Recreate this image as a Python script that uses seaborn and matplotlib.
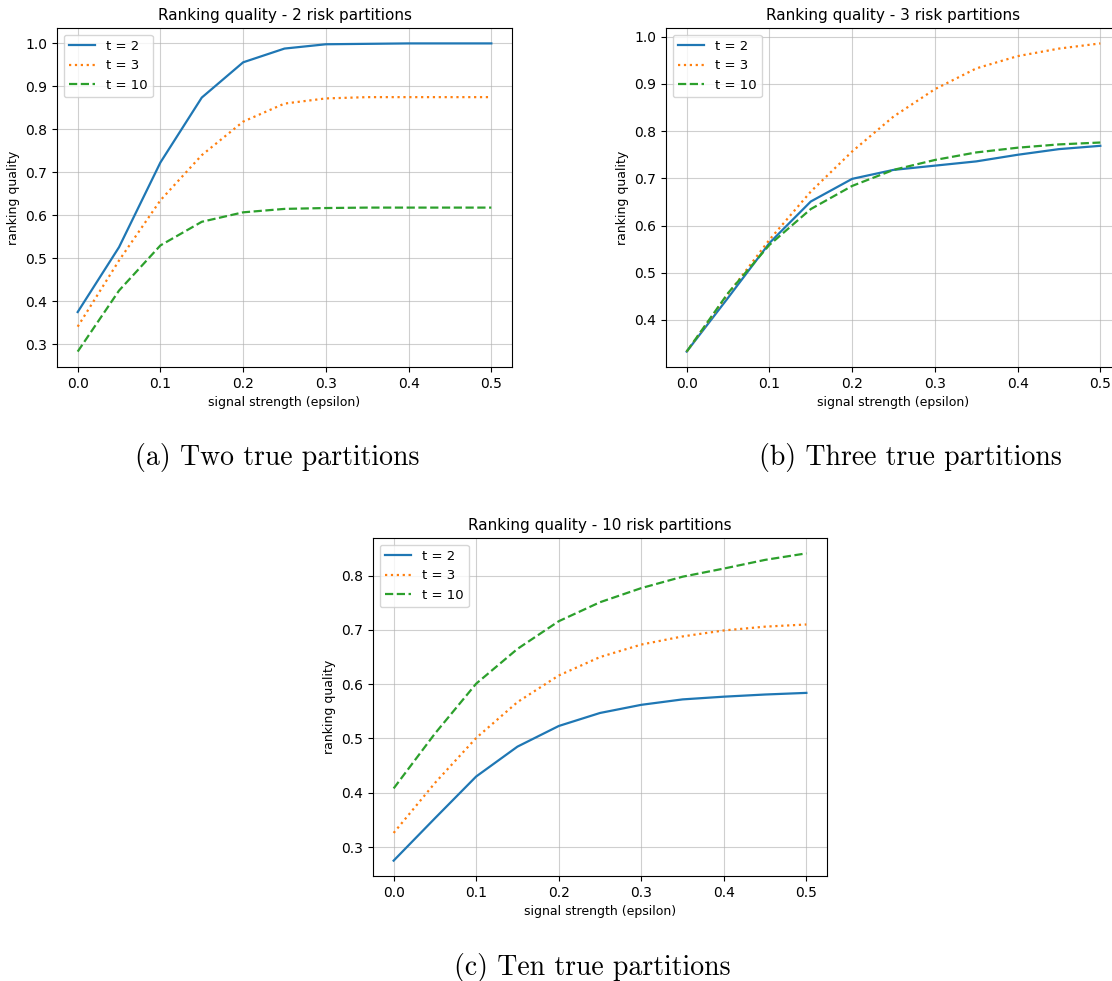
import matplotlib
matplotlib.use("Agg")
import matplotlib.pyplot as plt
import seaborn as sns
import pandas as pd

eps = [0.0, 0.05, 0.1, 0.15, 0.2, 0.25, 0.3, 0.35, 0.4, 0.45, 0.5]
series_labels = ["t = 2", "t = 3", "t = 10"]

# (a) Two true partitions
a_t2 = [0.375, 0.526, 0.723, 0.874, 0.956, 0.988, 0.998, 0.999, 1.0, 1.0, 1.0]
a_t3 = [0.341, 0.495, 0.635, 0.740, 0.818, 0.860, 0.872, 0.875, 0.875, 0.875, 0.875]
a_t10 = [0.283, 0.425, 0.530, 0.585, 0.607, 0.615, 0.617, 0.618, 0.618, 0.618, 0.618]

# (b) Three true partitions
b_t2 = [0.333, 0.447, 0.563, 0.651, 0.699, 0.718, 0.727, 0.736, 0.750, 0.762, 0.769]
b_t3 = [0.333, 0.455, 0.570, 0.672, 0.757, 0.831, 0.889, 0.933, 0.959, 0.975, 0.986]
b_t10 = [0.333, 0.457, 0.559, 0.635, 0.684, 0.718, 0.739, 0.755, 0.765, 0.772, 0.776]

# (c) Ten true partitions
c_t2 = [0.275, 0.353, 0.430, 0.485, 0.523, 0.547, 0.562, 0.572, 0.577, 0.581, 0.584]
c_t3 = [0.326, 0.418, 0.501, 0.567, 0.616, 0.650, 0.673, 0.688, 0.699, 0.706, 0.710]
c_t10 = [0.408, 0.509, 0.601, 0.665, 0.716, 0.751, 0.777, 0.798, 0.813, 0.829, 0.841]

titles = ["Ranking quality - 2 risk partitions",
          "Ranking quality - 3 risk partitions",
          "Ranking quality - 10 risk partitions"]
captions = ["(a) Two true partitions", "(b) Three true partitions", "(c) Ten true partitions"]

colors = ["#1f77b4", "#ff7f0e", "#2ca02c"]
styles = ["-", ":", "--"]

W, H = 1112, 981
fig = plt.figure(figsize=(W / 100, H / 100), dpi=100)

def add_axes_px(left, top, right, bottom):
    return fig.add_axes([left / W, 1 - bottom / H, (right - left) / W, (bottom - top) / H])

panels = [
    ((57, 28, 512, 367), [a_t2, a_t3, a_t10]),
    ((666, 28, 1121, 367), [b_t2, b_t3, b_t10]),
    ((373, 538, 827, 876), [c_t2, c_t3, c_t10]),
]

for i, (box, data) in enumerate(panels):
    ax = add_axes_px(*box)
    for vals, lab, col, ls in zip(data, series_labels, colors, styles):
        df = pd.DataFrame({"eps": eps, "q": vals})
        sns.lineplot(data=df, x="eps", y="q", ax=ax, color=col, linestyle=ls,
                     label=lab, linewidth=1.6)
    ax.grid(True, color="#b0b0b0", linewidth=0.8, alpha=0.6)
    ax.set_axisbelow(True)
    ax.set_title(titles[i], fontsize=11)
    ax.set_xlabel("signal strength (epsilon)", fontsize=9)
    ax.set_ylabel("ranking quality", fontsize=9)
    ax.tick_params(labelsize=10)
    ax.set_xticks([0.0, 0.1, 0.2, 0.3, 0.4, 0.5])
    ax.legend(loc="upper left", fontsize=9.5)

cap_pos = [(277, 458), (910, 458), (592, 968)]
for (cx, cy), cap in zip(cap_pos, captions):
    fig.text(cx / W, 1 - cy / H, cap, ha="center", va="center",
             family="cmr10", fontsize=20)

fig.savefig("out.png", dpi=100)
